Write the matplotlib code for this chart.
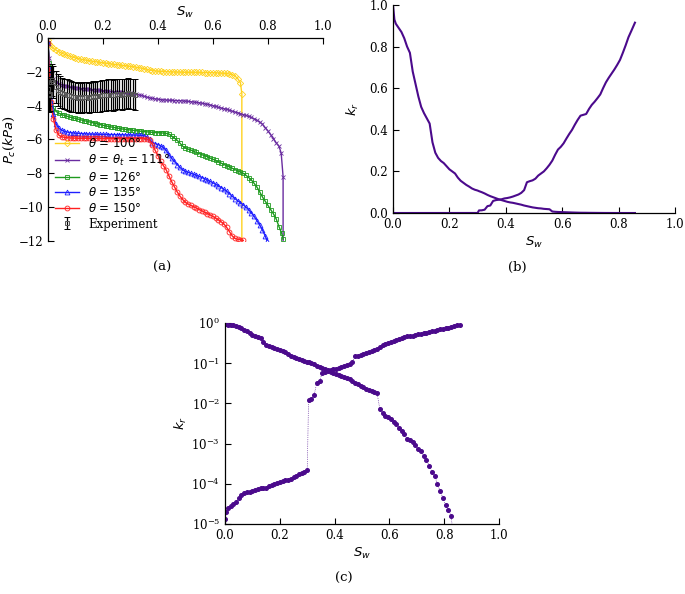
import matplotlib
matplotlib.use("Agg")
import matplotlib.pyplot as plt
import numpy as np

plt.rcParams['font.family'] = 'serif'
plt.rcParams['font.serif'] = ['DejaVu Serif']
plt.rcParams['mathtext.fontset'] = 'custom'
plt.rcParams['mathtext.it'] = 'DejaVu Sans:italic'
plt.rcParams['mathtext.rm'] = 'DejaVu Serif'
plt.rcParams['mathtext.bf'] = 'DejaVu Serif:bold'
plt.rcParams['font.size'] = 8.5

######## (a) capillary pressure curves ########
# common saturation grid
S_a = [0.0, 0.005, 0.01, 0.02, 0.03, 0.04, 0.05, 0.06, 0.07, 0.08, 0.09,
       0.10, 0.11, 0.12, 0.13, 0.14, 0.15, 0.16, 0.17, 0.18, 0.19,
       0.20, 0.21, 0.22, 0.23, 0.24, 0.25, 0.26, 0.27, 0.28, 0.29,
       0.30, 0.31, 0.32, 0.33, 0.34, 0.35, 0.36, 0.37, 0.38, 0.39,
       0.40, 0.41, 0.42, 0.43, 0.44, 0.45, 0.46, 0.47, 0.48, 0.49,
       0.50, 0.51, 0.52, 0.53, 0.54, 0.55, 0.56, 0.57, 0.58, 0.59,
       0.60, 0.61, 0.62, 0.63, 0.64, 0.65, 0.66, 0.67, 0.68, 0.69,
       0.70, 0.71, 0.72, 0.73, 0.74, 0.75, 0.76, 0.77, 0.78, 0.79,
       0.80, 0.81, 0.82, 0.83, 0.84, 0.85]

pc_100 = [-0.1, -0.35, -0.5, -0.62, -0.72, -0.82, -0.9, -0.96, -1.02, -1.08, -1.13,
          -1.18, -1.22, -1.26, -1.29, -1.32, -1.35, -1.37, -1.4, -1.42, -1.44,
          -1.47, -1.5, -1.52, -1.54, -1.56, -1.58, -1.6, -1.62, -1.64, -1.66,
          -1.68, -1.7, -1.73, -1.76, -1.79, -1.82, -1.86, -1.9, -1.93, -1.95,
          -1.97, -1.98, -1.99, -2.0, -2.0, -2.01, -2.01, -2.02, -2.02, -2.02,
          -2.03, -2.03, -2.03, -2.03, -2.04, -2.04, -2.04, -2.05, -2.05, -2.05,
          -2.06, -2.06, -2.07, -2.08, -2.09, -2.1, -2.13, -2.17, -2.25, -2.4,
          -2.65]
s_100_end = [0.705, 0.705]
pc_100_end = [-3.3, -12.5]

pc_111 = [-0.3, -1.2, -2.2, -2.45, -2.6, -2.7, -2.77, -2.82, -2.86, -2.9, -2.92,
          -2.95, -2.97, -2.99, -3.0, -3.02, -3.03, -3.05, -3.06, -3.08, -3.1,
          -3.12, -3.13, -3.15, -3.17, -3.18, -3.2, -3.21, -3.22, -3.24, -3.26,
          -3.28, -3.3, -3.32, -3.36, -3.4, -3.45, -3.5, -3.54, -3.57, -3.6,
          -3.62, -3.64, -3.66, -3.67, -3.68, -3.69, -3.7, -3.7, -3.71, -3.72,
          -3.73, -3.75, -3.77, -3.79, -3.81, -3.83, -3.86, -3.89, -3.92, -3.96,
          -4.0, -4.05, -4.1, -4.14, -4.18, -4.22, -4.27, -4.33, -4.38, -4.43,
          -4.48, -4.53, -4.58, -4.64, -4.7, -4.78, -4.87, -4.97, -5.1, -5.3,
          -5.5, -5.72, -5.95, -6.2, -6.4]
s_111_end = [0.848, 0.855, 0.855]
pc_111_end = [-6.8, -8.2, -12.5]

pc_126 = [-0.3, -1.5, -3.3, -4.15, -4.35, -4.45, -4.53, -4.58, -4.63, -4.68, -4.72,
          -4.76, -4.8, -4.84, -4.88, -4.92, -4.96, -5.0, -5.04, -5.08, -5.12,
          -5.16, -5.2, -5.23, -5.26, -5.29, -5.32, -5.35, -5.38, -5.4, -5.42,
          -5.44, -5.46, -5.48, -5.5, -5.52, -5.54, -5.55, -5.56, -5.58, -5.59,
          -5.6, -5.61, -5.62, -5.64, -5.68, -5.8, -5.92, -6.05, -6.22, -6.4,
          -6.5, -6.57, -6.63, -6.7, -6.77, -6.83, -6.9, -6.96, -7.02, -7.1,
          -7.17, -7.24, -7.32, -7.4, -7.48, -7.55, -7.62, -7.7, -7.78, -7.86,
          -7.93, -8.0, -8.12, -8.25, -8.4, -8.6, -8.82, -9.1, -9.4, -9.65,
          -9.9, -10.15, -10.4, -10.7, -11.15, -11.55]
s_126_end = [0.855]
pc_126_end = [-11.9]

pc_135 = [-0.3, -1.8, -3.0, -4.5, -5.1, -5.35, -5.45, -5.52, -5.56, -5.59, -5.61,
          -5.63, -5.64, -5.65, -5.66, -5.67, -5.68, -5.68, -5.69, -5.69, -5.7,
          -5.7, -5.7, -5.71, -5.71, -5.71, -5.72, -5.72, -5.72, -5.73, -5.73,
          -5.73, -5.74, -5.74, -5.75, -5.76, -5.78, -5.85, -6.0, -6.18, -6.25,
          -6.3, -6.38, -6.47, -6.65, -6.9, -7.12, -7.3, -7.48, -7.65, -7.8,
          -7.88, -7.94, -8.0, -8.06, -8.12, -8.18, -8.25, -8.32, -8.4, -8.48,
          -8.56, -8.65, -8.74, -8.84, -8.95, -9.07, -9.2, -9.35, -9.5, -9.62,
          -9.74, -9.86, -10.0, -10.15, -10.35, -10.55, -10.8, -11.05, -11.35, -11.7]
s_135_end = [0.797]
pc_135_end = [-12.0]

pc_150 = [-0.3, -2.0, -3.8, -4.8, -5.45, -5.75, -5.84, -5.88, -5.9, -5.91, -5.92,
          -5.92, -5.93, -5.93, -5.93, -5.93, -5.94, -5.94, -5.94, -5.94, -5.94,
          -5.94, -5.95, -5.95, -5.95, -5.95, -5.95, -5.95, -5.95, -5.95, -5.95,
          -5.95, -5.95, -5.95, -5.95, -5.95, -5.95, -5.97, -6.05, -6.3, -6.65,
          -6.95, -7.3, -7.55, -7.8, -8.15, -8.5, -8.8, -9.1, -9.35, -9.55,
          -9.72, -9.82, -9.9, -9.98, -10.06, -10.14, -10.22, -10.3, -10.38, -10.46,
          -10.55, -10.65, -10.75, -10.87, -11.0, -11.2, -11.45, -11.7, -11.85, -11.9,
          -11.93]
s_150_end = [0.71]
pc_150_end = [-11.97]

S_exp = [0.0, 0.004, 0.008, 0.012, 0.016, 0.02, 0.028, 0.036, 0.044, 0.052, 0.06,
         0.068, 0.076, 0.084, 0.092, 0.1, 0.108, 0.116, 0.124, 0.132, 0.14,
         0.148, 0.156, 0.164, 0.172, 0.18, 0.188, 0.196, 0.204, 0.212, 0.22,
         0.228, 0.236, 0.244, 0.252, 0.26, 0.268, 0.276, 0.284, 0.292, 0.3,
         0.308, 0.316]
pc_exp = [-3.0, -3.4, -3.3, -2.6, -2.5, -2.6, -2.9, -3.1, -3.2, -3.25, -3.3,
          -3.35, -3.4, -3.45, -3.5, -3.5, -3.55, -3.5, -3.55, -3.5, -3.5,
          -3.55, -3.5, -3.45, -3.5, -3.45, -3.45, -3.4, -3.4, -3.4, -3.35,
          -3.35, -3.4, -3.35, -3.3, -3.3, -3.35, -3.3, -3.3, -3.25, -3.3,
          -3.3, -3.35]
err_exp = [1.0, 1.0, 1.0, 0.95, 0.95, 0.95, 0.95, 0.95, 0.95, 0.9, 0.9,
           0.9, 0.9, 0.9, 0.9, 0.9, 0.9, 0.9, 0.9, 0.9, 0.9,
           0.9, 0.9, 0.9, 0.9, 0.9, 0.9, 0.9, 0.9, 0.9, 0.9,
           0.9, 0.9, 0.9, 0.9, 0.9, 0.9, 0.9, 0.9, 0.9, 0.9,
           0.9, 0.9]

######## (b)/(c) relative permeability ########
S_kr = [0.0, 0.005, 0.01, 0.02, 0.03, 0.04, 0.05, 0.06, 0.07, 0.08, 0.09,
        0.10, 0.11, 0.12, 0.13, 0.14, 0.15, 0.16, 0.17, 0.18, 0.19,
        0.20, 0.21, 0.22, 0.23, 0.24, 0.25, 0.26, 0.27, 0.28, 0.29,
        0.30, 0.305, 0.315, 0.325, 0.335, 0.345, 0.355, 0.365, 0.375, 0.385,
        0.395, 0.405, 0.415, 0.425, 0.435, 0.445, 0.455, 0.465, 0.475, 0.485,
        0.495, 0.505, 0.515, 0.525, 0.535, 0.545, 0.555, 0.565, 0.575, 0.585,
        0.595, 0.605, 0.615, 0.625, 0.635, 0.645, 0.655, 0.665, 0.675, 0.685,
        0.695, 0.705, 0.715, 0.725, 0.735, 0.745, 0.755, 0.765, 0.775, 0.785,
        0.795, 0.805, 0.815, 0.825, 0.835, 0.845, 0.858]

kr_w = [1.3e-5, 2.0e-5, 2.5e-5, 2.8e-5, 3.1e-5, 3.5e-5, 4.4e-5, 5.2e-5, 5.9e-5, 6.2e-5, 6.4e-5,
        6.6e-5, 7.1e-5, 7.5e-5, 7.7e-5, 7.8e-5, 8.0e-5, 8.6e-5, 9.4e-5, 1.0e-4, 1.05e-4,
        1.1e-4, 1.15e-4, 1.22e-4, 1.28e-4, 1.35e-4, 1.45e-4, 1.55e-4, 1.75e-4, 1.9e-4, 2.0e-4,
        2.15e-4, 0.0125, 0.013, 0.016, 0.033, 0.036, 0.058, 0.062, 0.064, 0.066,
        0.07, 0.072, 0.075, 0.079, 0.084, 0.089, 0.097, 0.11, 0.148, 0.153,
        0.157, 0.165, 0.18, 0.19, 0.2, 0.215, 0.232, 0.252, 0.28, 0.305,
        0.318, 0.335, 0.358, 0.38, 0.4, 0.425, 0.448, 0.468, 0.472, 0.476,
        0.5, 0.52, 0.535, 0.552, 0.57, 0.6, 0.628, 0.65, 0.67, 0.69,
        0.712, 0.736, 0.77, 0.806, 0.845, 0.875, 0.915]

kr_nw = [1.0, 0.93, 0.91, 0.89, 0.87, 0.84, 0.8, 0.77, 0.68, 0.62, 0.56,
         0.51, 0.48, 0.455, 0.43, 0.34, 0.29, 0.265, 0.25, 0.24, 0.225,
         0.21, 0.2, 0.19, 0.17, 0.155, 0.145, 0.135, 0.127, 0.118, 0.112,
         0.108, 0.105, 0.1, 0.094, 0.087, 0.081, 0.076, 0.071, 0.066, 0.062,
         0.058, 0.054, 0.051, 0.049, 0.046, 0.043, 0.04, 0.036, 0.033, 0.03,
         0.027, 0.025, 0.023, 0.022, 0.02, 0.019, 0.018, 0.0072, 0.0058, 0.005,
         0.0045, 0.004, 0.0035, 0.003, 0.0025, 0.0021, 0.0017, 0.0013, 0.0012, 0.0011,
         0.0009, 0.00075, 0.00065, 0.0005, 0.0004, 0.00028, 0.0002, 0.00016, 0.0001, 6.5e-5,
         4.5e-5, 3.0e-5, 2.2e-5, 1.6e-5, 4e-6, 0.0, 0.0]

labels_a = [r"$\theta$ = 100°", r"$\theta$ = $\theta_t$ = 111°", r"$\theta$ = 126°",
            r"$\theta$ = 135°", r"$\theta$ = 150°"]

purple = '#4b0a8c'


def style_ticks(ax):
    ax.tick_params(direction='in', length=4, width=0.8, labelsize=8.5)
    for sp in ax.spines.values():
        sp.set_linewidth(0.9)


fig = plt.figure(figsize=(6.85, 5.94), dpi=100)

# ---- (a)
ax1 = fig.add_axes([0.070, 0.5943, 0.4015, 0.3418])
series = [
    (pc_100, s_100_end, pc_100_end, '#ffd21f', 'D', 3.2),
    (pc_111, s_111_end, pc_111_end, '#6a2ca0', 'x', 3.5),
    (pc_126, s_126_end, pc_126_end, '#1f9a1f', 's', 3.5),
    (pc_135, s_135_end, pc_135_end, '#1f1fff', '^', 3.5),
    (pc_150, s_150_end, pc_150_end, '#ff2020', 'o', 3.5),
]
handles = []
for (pc, s_end, pc_end, col, mk, ms), lab in zip(series, labels_a):
    x = S_a[:len(pc)] + s_end
    y = pc + pc_end
    h, = ax1.plot(x, y, color=col, lw=1.0, marker=mk, ms=ms, mfc='none',
                  mec=col, mew=0.6, label=lab)
    handles.append(h)
eb = ax1.errorbar(S_exp, pc_exp, yerr=err_exp, fmt='s', ms=3.5, mfc='none',
                  mec='#555555', mew=0.7, ecolor='black', elinewidth=0.9,
                  capsize=2, capthick=0.8, label='Experiment')
handles.append(eb)
ax1.set_xlim(0, 1)
ax1.set_ylim(-12, 0)
ax1.xaxis.tick_top()
ax1.xaxis.set_label_position('top')
ax1.set_xticks([0.0, 0.2, 0.4, 0.6, 0.8, 1.0])
ax1.set_yticks([0, -2, -4, -6, -8, -10, -12])
ax1.spines['right'].set_visible(False)
ax1.spines['bottom'].set_visible(False)
ax1.set_xlabel(r"$S_w$", fontsize=9.5, labelpad=3)
ax1.set_ylabel(r"$P_c(kPa)$", fontsize=9.5, labelpad=1)
style_ticks(ax1)
leg = ax1.legend(handles=handles, loc='upper left', bbox_to_anchor=(0.0, 0.545),
                 frameon=False, fontsize=8.5, labelspacing=0.22, handlelength=2.0,
                 handletextpad=0.8, borderaxespad=0.2)
for t in leg.get_texts()[:5]:
    t.set_family('DejaVu Sans')

# ---- (b)
ax2 = fig.add_axes([0.5737, 0.6414, 0.4117, 0.3502])
ax2.plot(S_kr, kr_w, color=purple, lw=1.5)
ax2.plot(S_kr, kr_nw, color=purple, lw=1.5)
ax2.set_xlim(0, 1)
ax2.set_ylim(0, 1)
ax2.set_xticks([0.0, 0.2, 0.4, 0.6, 0.8, 1.0])
ax2.set_yticks([0.0, 0.2, 0.4, 0.6, 0.8, 1.0])
ax2.spines['right'].set_visible(False)
ax2.spines['top'].set_visible(False)
ax2.set_xlabel(r"$S_w$", fontsize=9.5, labelpad=3)
ax2.set_ylabel(r"$k_r$", fontsize=9.5, labelpad=6)
style_ticks(ax2)

# ---- (c)
ax3 = fig.add_axes([0.3285, 0.1178, 0.400, 0.3384])
kw = np.array(kr_w, dtype=float)
knw = np.array(kr_nw, dtype=float)
kw[kw <= 0] = np.nan
knw[knw <= 0] = np.nan
for k in (kw, knw):
    ax3.plot(S_kr, k, color=purple, lw=0.5, ls=':', marker='o', ms=2.6,
             mfc=purple, mec=purple)
ax3.set_yscale('log')
ax3.set_xlim(0, 1)
ax3.set_ylim(1e-5, 1.0)
ax3.set_xticks([0.0, 0.2, 0.4, 0.6, 0.8, 1.0])
ax3.set_yticks([1e-5, 1e-4, 1e-3, 1e-2, 1e-1, 1e0])
ax3.minorticks_off()
ax3.spines['right'].set_visible(False)
ax3.spines['top'].set_visible(False)
ax3.set_xlabel(r"$S_w$", fontsize=9.5, labelpad=3)
ax3.set_ylabel(r"$k_r$", fontsize=9.5, labelpad=2)
style_ticks(ax3)

# captions
fig.text(0.2365, 0.549, "(a)", ha='center', va='center', fontsize=9.5)
fig.text(0.7547, 0.549, "(b)", ha='center', va='center', fontsize=9.5)
fig.text(0.502, 0.027, "(c)", ha='center', va='center', fontsize=9.5)

fig.savefig("out.png", dpi=100)
